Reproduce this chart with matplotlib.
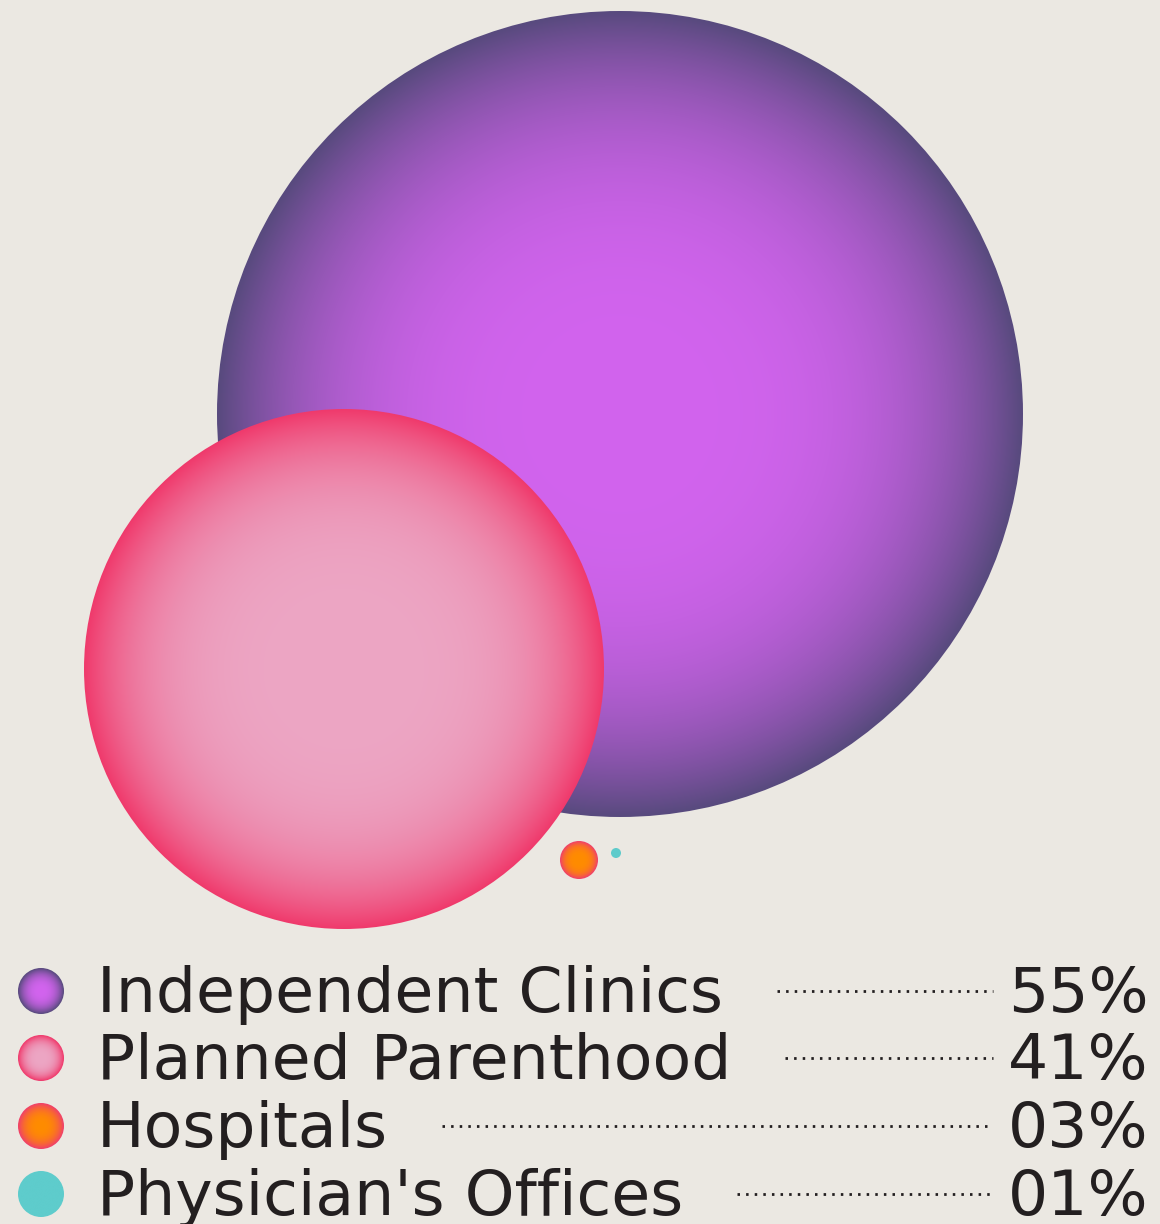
import numpy as np
import matplotlib
matplotlib.use("Agg")
from matplotlib import pyplot as plt
from matplotlib.patches import Circle

# data
categories = ["Independent Clinics", "Planned Parenthood", "Hospitals", "Physician's Offices"]
shares = [55, 41, 3, 1]
pct_labels = ["55%", "41%", "03%", "01%"]

# bubble layout (pixel space of the 1160x1224 canvas)
bubble_x = [620, 344, 579, 616]
bubble_y = [414, 669, 860, 853]
bubble_r = [403, 260, 19, 5]

# gradient colours: centre -> rim
inner_cols = ["#d264ee", "#eca6c4", "#ff8c00", "#5ecccc"]
outer_cols = ["#584a7e", "#f03a6c", "#f0406a", "#5ecccc"]
falloff = [3.4, 4.0, 3.5, 1.0]

bg = "#ebe8e2"
ink = "#231f20"

W, H = 1160, 1224
fig = plt.figure(figsize=(W / 100, H / 100), dpi=100)
fig.patch.set_facecolor(bg)
ax = fig.add_axes([0, 0, 1, 1])
ax.set_xlim(0, W)
ax.set_ylim(H, 0)
ax.set_aspect("equal")
ax.axis("off")


def hex_rgb(h):
    return np.array(matplotlib.colors.to_rgb(h))


def gradient_ball(cx, cy, r, c_in, c_out, p, z):
    n = 400 if r > 50 else 80
    g = np.linspace(-1, 1, n)
    xx, yy = np.meshgrid(g, g)
    t = np.clip(np.sqrt(xx ** 2 + yy ** 2), 0, 1)
    f = t ** p
    a, b = hex_rgb(c_in), hex_rgb(c_out)
    img = a[None, None, :] * (1 - f[..., None]) + b[None, None, :] * f[..., None]
    im = ax.imshow(img, extent=[cx - r, cx + r, cy + r, cy - r],
                   interpolation="bilinear", zorder=z)
    clip = Circle((cx, cy), r, transform=ax.transData, facecolor="none", edgecolor="none")
    ax.add_patch(clip)
    im.set_clip_path(clip)


for i in range(len(categories)):
    gradient_ball(bubble_x[i], bubble_y[i], bubble_r[i],
                  inner_cols[i], outer_cols[i], falloff[i], 2 + i)

# legend rows
row_y = [991, 1058, 1126, 1194]
fs = 45.5
fig.canvas.draw()
renderer = fig.canvas.get_renderer()
inv = ax.transData.inverted()
for i, name in enumerate(categories):
    y = row_y[i]
    gradient_ball(41, y, 23, inner_cols[i], outer_cols[i], falloff[i] * 0.8, 10)
    t = ax.text(97, y + 21, name, fontsize=fs, color=ink, va="baseline", ha="left",
                family="DejaVu Sans", zorder=11)
    ax.text(1149, y + 21, pct_labels[i], fontsize=fs, color=ink, va="baseline",
            ha="right", family="DejaVu Sans", zorder=11)
    bb = t.get_window_extent(renderer=renderer)
    x_end = inv.transform((bb.x1, 0))[0]
    ax.plot([x_end + 54, 993], [y, y], color=ink, lw=2.0,
            linestyle=(0, (0.9, 2.2)), zorder=11)

fig.savefig("out.png", dpi=100, facecolor=bg)
